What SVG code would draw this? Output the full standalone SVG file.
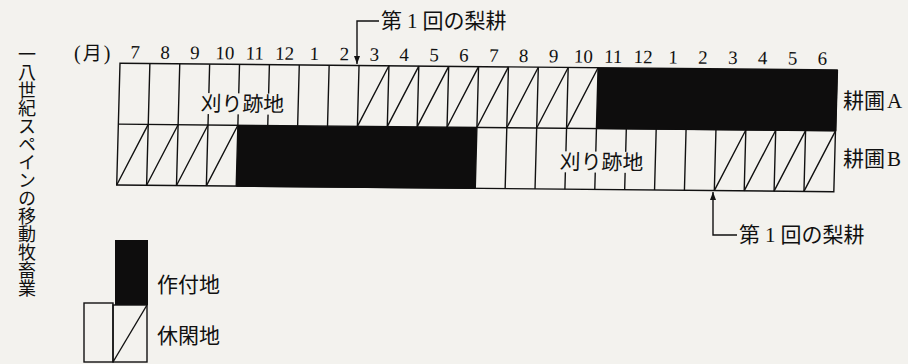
<svg xmlns="http://www.w3.org/2000/svg" width="908" height="364" viewBox="0 0 908 364">
<defs>
<style>
.bg{fill:#f3f2ee}
.ln{stroke:#111;stroke-width:1.4;fill:none}
.blk{fill:#0e0d0d}
.cjk{font-family:"Noto Sans CJK JP","Noto Sans",sans-serif;font-weight:400;fill:#111}
.num{font-family:"Liberation Serif","Noto Sans CJK JP",serif;fill:#111}
.mo{font-size:19px;text-anchor:middle}
.lbl{font-size:21px}
</style>
<marker id="ah" viewBox="0 0 8 6" refX="8" refY="3" markerWidth="8" markerHeight="6" markerUnits="userSpaceOnUse" orient="auto">
<path d="M0,0 L8,3 L0,6 z" fill="#111"/>
</marker>
</defs>
<rect class="bg" x="0" y="0" width="908" height="364"/>

<g id="title">
<text class="cjk" x="27" y="45" font-size="18" style="writing-mode:vertical-rl">一八世紀スペインの移動牧畜業</text>
</g>

<g id="month-unit">
<text class="num" x="74" y="60" font-size="20">(<tspan class="cjk" font-size="19" dx="2">月</tspan><tspan dx="2">)</tspan></text>
</g>

<g id="chart" transform="matrix(0.996,0.0093,-0.027,0.9975,120,63.3)">
<g id="grid">
<rect class="ln" x="0" y="0" width="720" height="122"/>
<line class="ln" x1="0" y1="61" x2="720" y2="61"/>
<path class="ln" d="M30,0V122M60,0V122M90,0V122M120,0V122M150,0V122M180,0V122M210,0V122M240,0V122M270,0V122M300,0V122M330,0V122M360,0V122M390,0V122M420,0V122M450,0V122M480,0V122M510,0V122M540,0V122M570,0V122M600,0V122M630,0V122M660,0V122M690,0V122"/>
</g>
<g id="hatch">
<path class="ln" d="M240,61L270,0M270,61L300,0M300,61L330,0M330,61L360,0M360,61L390,0M390,61L420,0M420,61L450,0M450,61L480,0"/>
<path class="ln" d="M0,122L30,61M30,122L60,61M60,122L90,61M90,122L120,61M600,122L630,61M630,122L660,61M660,122L690,61M690,122L720,61"/>
</g>
<g id="field-A">
<rect class="blk" x="480" y="0" width="241" height="61.5"/>
<rect class="bg" x="80" y="29" width="90" height="21"/>
<text class="cjk lbl" x="124" y="47" text-anchor="middle">刈り跡地</text>
</g>
<g id="field-B">
<rect class="blk" x="120" y="61" width="240" height="61.7"/>
<rect class="bg" x="443" y="84" width="85" height="21"/>
<text class="cjk lbl" x="486" y="102" text-anchor="middle">刈り跡地</text>
</g>
<g id="months">
<text class="num mo" x="15" y="-5">7</text>
<text class="num mo" x="45" y="-5">8</text>
<text class="num mo" x="75" y="-5">9</text>
<text class="num mo" x="105" y="-5">10</text>
<text class="num mo" x="135" y="-5">11</text>
<text class="num mo" x="165" y="-5">12</text>
<text class="num mo" x="195" y="-5">1</text>
<text class="num mo" x="225" y="-5">2</text>
<text class="num mo" x="255" y="-5">3</text>
<text class="num mo" x="285" y="-5">4</text>
<text class="num mo" x="315" y="-5">5</text>
<text class="num mo" x="345" y="-5">6</text>
<text class="num mo" x="375" y="-5">7</text>
<text class="num mo" x="405" y="-5">8</text>
<text class="num mo" x="435" y="-5">9</text>
<text class="num mo" x="465" y="-5">10</text>
<text class="num mo" x="495" y="-5">11</text>
<text class="num mo" x="525" y="-5">12</text>
<text class="num mo" x="555" y="-5">1</text>
<text class="num mo" x="585" y="-5">2</text>
<text class="num mo" x="615" y="-5">3</text>
<text class="num mo" x="645" y="-5">4</text>
<text class="num mo" x="675" y="-5">5</text>
<text class="num mo" x="705" y="-5">6</text>
</g>
</g>

<g id="label-A">
<text class="cjk lbl" x="843" y="108">耕圃<tspan class="num" font-size="21" dx="2">A</tspan></text>
</g>
<g id="label-B">
<text class="cjk lbl" x="843" y="166">耕圃<tspan class="num" font-size="21" dx="2">B</tspan></text>
</g>

<g id="connectors">
<path class="ln" d="M379,21H357V64" marker-end="url(#ah)"/>
<path class="ln" d="M737,235H713V192" marker-end="url(#ah)"/>
</g>
<g id="plough-1">
<text class="cjk lbl" x="381" y="28">第<tspan class="num" font-size="21" dx="5">1</tspan><tspan dx="5">回の梨耕</tspan></text>
</g>
<g id="plough-2">
<text class="cjk lbl" x="739" y="242">第<tspan class="num" font-size="21" dx="5">1</tspan><tspan dx="5">回の梨耕</tspan></text>
</g>

<g id="legend">
<rect class="blk" x="115" y="240" width="33" height="65"/>
<rect class="ln" x="84" y="303" width="29" height="59"/>
<rect class="ln" x="113" y="305" width="34" height="57"/>
<line class="ln" x1="113" y1="362" x2="147" y2="305"/>
<text class="cjk lbl" x="157" y="292">作付地</text>
<text class="cjk lbl" x="157" y="343">休閑地</text>
</g>
</svg>
